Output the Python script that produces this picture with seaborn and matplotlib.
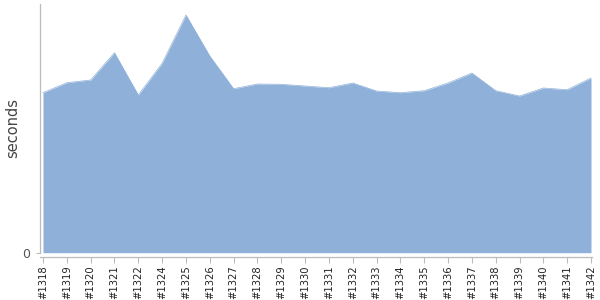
import matplotlib
matplotlib.use("Agg")
import matplotlib.pyplot as plt
import seaborn as sns
import pandas as pd

builds = ["#1318", "#1319", "#1320", "#1321", "#1322", "#1324", "#1325", "#1326",
          "#1327", "#1328", "#1329", "#1330", "#1331", "#1332", "#1333", "#1334",
          "#1335", "#1336", "#1337", "#1338", "#1339", "#1340", "#1341", "#1342"]
seconds = [160.0, 170.0, 172.7, 200.0, 157.7, 189.4, 237.7, 196.7,
           164.0, 168.7, 168.4, 166.7, 165.0, 169.7, 161.7, 160.0,
           162.0, 169.7, 179.7, 162.0, 156.7, 164.7, 163.0, 174.7]
ytick_labels = ["0"]

df = pd.DataFrame({"build": builds, "seconds": seconds, "idx": range(len(builds))})

sns.set_theme(style="white")
plt.rcParams["font.family"] = ["DejaVu Sans"]

fig = plt.figure(figsize=(6, 3), dpi=100)
W, H = 600, 300
ax = fig.add_axes([40 / W, 1 - 257 / H, (592 - 40) / W, (257 - 4) / H])

color = "#8fb1d9"
ax.fill_between(df["idx"], 0, df["seconds"], color=color, linewidth=0)
sns.lineplot(data=df, x="idx", y="seconds", ax=ax, color=color, linewidth=0.5)

n = len(builds)
step = (591 - 43) / (n - 1)
ax.set_xlim(-3 / step, (n - 1) + 1 / step)
top = 248.7
ax.set_ylim(-4.3, top)

ax.set_xticks(range(n))
ax.set_xticklabels(builds, rotation=90, fontsize=7.2, color="#222222")
ax.set_yticks([0])
ax.set_yticklabels(ytick_labels, fontsize=9, color="#555555")
ax.tick_params(axis="x", length=4, width=0.8, color="#bbbbbb", pad=2, bottom=True)
ax.tick_params(axis="y", length=3, width=0.8, color="#bbbbbb", pad=4, left=True)

ax.set_xlabel("")
ax.set_ylabel("seconds", fontsize=10.5, color="#444444")
ax.yaxis.set_label_coords((20 - 40) / 552, 1 - (128 - 4) / 253)

for s in ["top", "right"]:
    ax.spines[s].set_visible(False)
ax.spines["left"].set_color("#bbbbbb")
ax.spines["bottom"].set_color("#bbbbbb")
ax.spines["left"].set_linewidth(0.9)
ax.spines["bottom"].set_linewidth(0.9)
ax.spines["left"].set_bounds(0, top)

fig.savefig("out.png", dpi=100)
